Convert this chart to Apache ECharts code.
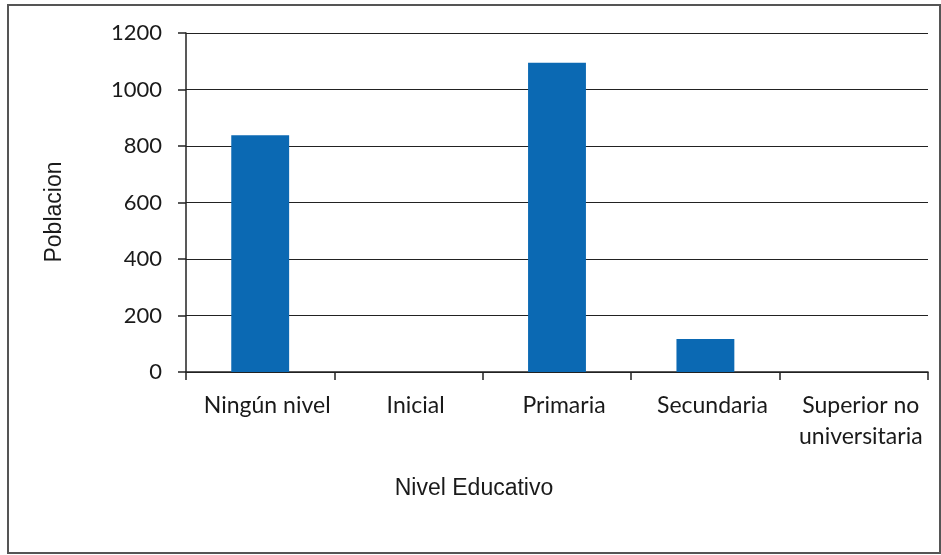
<!DOCTYPE html>
<html>
<head>
<meta charset="utf-8">
<script src="https://cdn.jsdelivr.net/npm/echarts@6/dist/echarts.min.js"></script>
<style>html,body{margin:0;padding:0;background:#fff}#c{width:941px;height:555px}</style>
</head>
<body>
<div id="c"></div>
<script>
const categories = ["Ningún nivel", "Inicial", "Primaria", "Secundaria", "Superior no\nuniversitaria"];
const poblacion = [838, 0, 1095, 117, 0];
const yTicks = { min: 0, max: 1200, interval: 200 };
const xTitle = "Nivel Educativo";
const yTitle = "Poblacion";

const chart = echarts.init(document.getElementById('c'));
chart.setOption({
  animation: false,
  backgroundColor: '#fff',
  graphic: [
    { type: 'rect', shape: { x: 8, y: 5, width: 932, height: 548 },
      style: { fill: 'none', stroke: '#555', lineWidth: 2 }, silent: true },
    { type: 'text', x: 474, y: 489,
      style: { text: xTitle, font: '23px "Liberation Sans"', fill: '#1a1a1a', textAlign: 'center', textVerticalAlign: 'middle' } },
    { type: 'text', x: 55, y: 212, rotation: Math.PI / 2,
      style: { text: yTitle, font: '23px "Liberation Sans"', fill: '#1a1a1a', textAlign: 'center', textVerticalAlign: 'middle' } }
  ],
  grid: { left: 186, right: 13, top: 33, bottom: 183 },
  xAxis: {
    type: 'category', data: categories,
    axisLine: { lineStyle: { color: '#222', width: 1.5 } },
    axisTick: { show: true, length: 8, alignWithLabel: false, lineStyle: { color: '#222', width: 1.5 } },
    axisLabel: { fontFamily: 'Lato', fontSize: 23, color: '#1a1a1a', margin: 18, lineHeight: 31, interval: 0, padding: [0, 0, 0, 14] }
  },
  yAxis: {
    type: 'value', min: yTicks.min, max: yTicks.max, interval: yTicks.interval,
    axisLine: { show: true, lineStyle: { color: '#222', width: 1.5 } },
    axisTick: { show: true, length: 8, lineStyle: { color: '#222', width: 1.5 } },
    axisLabel: { fontFamily: 'Lato', fontSize: 22, color: '#1a1a1a', margin: 24, formatter: v => String(v) },
    splitLine: { lineStyle: { color: '#222', width: 1.2 } }
  },
  series: [{
    type: 'bar', data: poblacion, barWidth: '39%',
    itemStyle: { color: '#0b69b3', borderWidth: 0 }
  }]
});
</script>
</body>
</html>
